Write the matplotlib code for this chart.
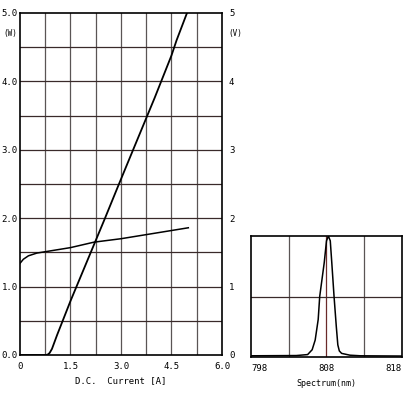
import matplotlib
matplotlib.use("Agg")
import matplotlib.pyplot as plt
import numpy as np

# Power curve (W) vs DC current (A)
current_p = [0.0, 0.75, 0.82, 0.88, 0.95, 1.1, 1.5, 2.0, 2.5, 2.94, 3.36, 4.0, 4.5, 4.65, 4.96]
power = [0.0, 0.0, 0.005, 0.03, 0.09, 0.29, 0.79, 1.38, 1.97, 2.5, 3.0, 3.76, 4.38, 4.6, 5.0]

# Voltage curve (V) vs DC current (A)
current_v = [0.0, 0.1, 0.25, 0.5, 0.75, 1.5, 2.2, 3.0, 3.75, 4.5, 5.0]
voltage = [1.34, 1.40, 1.45, 1.49, 1.51, 1.57, 1.65, 1.70, 1.76, 1.82, 1.86]

# Spectrum
wavelength = [798, 804, 805.5, 806.1, 806.5, 806.9, 807.1, 807.7, 808.0, 808.25, 808.5,
              808.7, 809.0, 809.3, 809.5, 809.7, 810.0, 811.1, 812.5, 818]
intensity = [0.01, 0.012, 0.02, 0.06, 0.14, 0.31, 0.5, 0.78, 0.96, 1.0, 0.96,
             0.78, 0.5, 0.25, 0.1, 0.05, 0.03, 0.015, 0.01, 0.008]

x_ticks = [0, 1.5, 3.0, 4.5, 6.0]
x_ticklabels = ["0", "1.5", "3.0", "4.5", "6.0"]
w_ticks = [0, 1, 2, 3, 4, 5]
w_ticklabels = ["0.0", "1.0", "2.0", "3.0", "4.0", "5.0"]
v_ticklabels = ["0", "1", "2", "3", "4", "5"]
s_ticks = [798, 808, 818]
s_ticklabels = ["798", "808", "818"]

font = "DejaVu Sans Mono"
fs = 6.5
gridc = "#3a2a2a"

fig = plt.figure(figsize=(4.10, 3.93), dpi=100)

ax = fig.add_axes([20/410, 1-355/393, 202/410, 342/393])
ax.set_xlim(0, 6)
ax.set_ylim(0, 5)
for xv in np.arange(0.75, 6.0, 0.75):
    ax.axvline(xv, color="#5a5555", lw=0.9, zorder=1)
for yv in np.arange(0.5, 5.0, 0.5):
    ax.axhline(yv, color=gridc, lw=0.9, zorder=1)
ax.plot(current_p, power, color="black", lw=1.3, zorder=3)
ax.plot(current_v, voltage, color="black", lw=1.1, zorder=3)
ax.set_xticks(x_ticks)
ax.set_xticklabels(x_ticklabels, family=font, fontsize=fs)
ax.set_yticks(w_ticks)
ax.set_yticklabels(w_ticklabels, family=font, fontsize=fs)
ax.tick_params(axis="y", length=0, pad=1.5)
ax.tick_params(axis="x", length=0, pad=5)
for s in ax.spines.values():
    s.set_color("black")
    s.set_linewidth(1.2)
ax.set_xlabel("D.C.  Current [A]", family=font, fontsize=fs, labelpad=4)
ax.text(-10/202, 0.94, "(W)", transform=ax.transAxes, family=font, fontsize=5.5, ha="center", va="center")

ax2 = ax.twinx()
ax2.set_ylim(0, 5)
ax2.set_yticks(w_ticks)
ax2.set_yticklabels(v_ticklabels, family=font, fontsize=fs)
ax2.tick_params(length=0, pad=5)
ax2.text(1.03, 0.94, "(V)", transform=ax.transAxes, family=font, fontsize=5.5, ha="left", va="center")
for s in ax2.spines.values():
    s.set_visible(False)

axs = fig.add_axes([251/410, 1-357/393, 151/410, 121/393])
axs.set_xlim(798, 818)
axs.set_ylim(0, 1.0)
for xv in [803, 813]:
    axs.axvline(xv, color="#5a5555", lw=0.9, zorder=1)
axs.axvline(808, color="#6a2a2a", lw=0.9, zorder=1)
axs.axhline(0.5, color=gridc, lw=0.9, zorder=1)
axs.plot(wavelength, intensity, color="black", lw=1.1, zorder=3)
axs.set_xticks(s_ticks)
labels = axs.set_xticklabels(s_ticklabels, family=font, fontsize=fs)
labels[0].set_ha("left")
labels[2].set_ha("right")
axs.set_yticks([])
axs.tick_params(length=0, pad=5)
for s in axs.spines.values():
    s.set_color("black")
    s.set_linewidth(1.2)
axs.set_xlabel("Spectrum(nm)", family=font, fontsize=6, labelpad=4)

fig.savefig("out.png", dpi=100)
